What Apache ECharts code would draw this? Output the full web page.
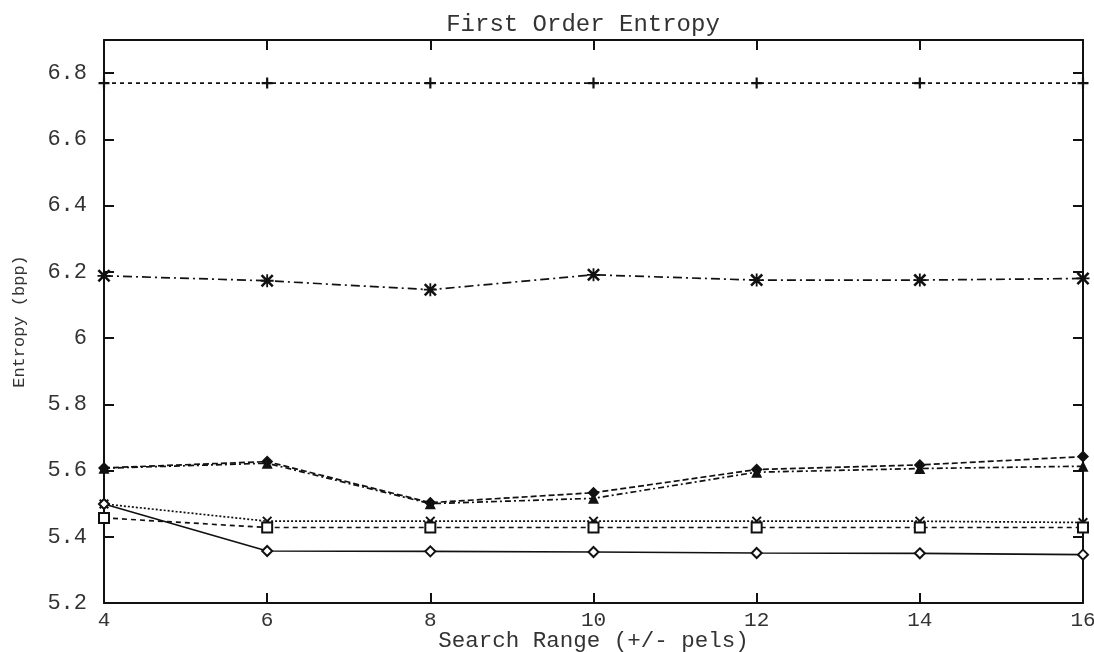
<!DOCTYPE html>
<html>
<head>
<meta charset="utf-8">
<script src="https://cdn.jsdelivr.net/npm/echarts@6/dist/echarts.min.js"></script>
<style>html,body{margin:0;padding:0;background:#fff;}#c{width:1094px;height:652px;}</style>
</head>
<body>
<div id="c"></div>
<script>
const searchRange = [4, 6, 8, 10, 12, 14, 16];
const plusSeries     = [6.77, 6.77, 6.77, 6.77, 6.77, 6.77, 6.77];
const starSeries     = [6.188, 6.173, 6.146, 6.191, 6.175, 6.175, 6.18];
const diamondSeries  = [5.608, 5.627, 5.503, 5.533, 5.603, 5.617, 5.642];
const triangleSeries = [5.607, 5.622, 5.500, 5.516, 5.595, 5.606, 5.613];
const crossSeries    = [5.499, 5.447, 5.447, 5.447, 5.447, 5.447, 5.443];
const squareSeries   = [5.457, 5.428, 5.428, 5.428, 5.428, 5.428, 5.428];
const solidSeries    = [5.499, 5.357, 5.356, 5.354, 5.351, 5.350, 5.346];
const yTicks = [5.2, 5.4, 5.6, 5.8, 6, 6.2, 6.4, 6.6, 6.8];

const FONT = '"Liberation Mono", "DejaVu Sans Mono", monospace';
const TXT = '#333';
const pair = arr => searchRange.map((x, i) => [x, arr[i]]);

const plusPath = 'path://M4,0H6V4H10V6H6V10H4V6H0V4H4Z';
const xPath = 'path://M0,1.4L1.4,0L10,8.6L8.6,10Z M8.6,0L10,1.4L1.4,10L0,8.6Z';
const starPath = 'path://M4.3,0H5.7V10H4.3Z M0,4.3H10V5.7H0Z M0,1.4L1.4,0L10,8.6L8.6,10Z M8.6,0L10,1.4L1.4,10L0,8.6Z';

function mk(name, arr, symbol, size, dash, extra) {
  return Object.assign({
    name: name,
    type: 'line',
    data: pair(arr),
    symbol: symbol,
    symbolSize: size,
    clip: false,
    lineStyle: { color: '#111', width: 1.7, type: dash },
    itemStyle: { color: '#111' },
    animation: false
  }, extra || {});
}

const chart = echarts.init(document.getElementById('c'));
const axisCommon = {
  axisLine: { show: true, lineStyle: { color: '#111', width: 2 } },
  axisTick: { show: true, inside: true, length: 10, lineStyle: { color: '#111', width: 2 } },
  splitLine: { show: false }
};
chart.setOption({
  backgroundColor: '#fff',
  animation: false,
  title: {
    text: 'First Order Entropy',
    left: 578, top: 8, textAlign: 'center',
    textStyle: { fontFamily: FONT, fontSize: 24, fontWeight: 'normal', color: TXT }
  },
  grid: { left: 104, right: 11, top: 40, bottom: 49, containLabel: false, outerBoundsMode: 'none' },
  xAxis: [
    Object.assign({
      type: 'value', min: 4, max: 16, interval: 2, position: 'bottom',
      name: 'Search Range (+/- pels)', nameLocation: 'middle', nameGap: 27, nameMoveOverlap: false,
      nameTextStyle: { fontFamily: FONT, fontSize: 22.5, color: TXT },
      axisLabel: { fontFamily: FONT, fontSize: 21, color: TXT, margin: 7 }
    }, axisCommon),
    Object.assign({
      type: 'value', min: 4, max: 16, interval: 2, position: 'top',
      axisLabel: { show: false }
    }, axisCommon)
  ],
  yAxis: [
    Object.assign({
      type: 'value', min: 5.2, max: 6.9, interval: 0.2, position: 'left',
      name: 'Entropy (bpp)', nameLocation: 'middle', nameGap: 76, nameRotate: 90, nameMoveOverlap: false,
      nameTextStyle: { fontFamily: FONT, fontSize: 17, color: TXT },
      axisLabel: {
        fontFamily: FONT, fontSize: 22, color: TXT, margin: 17, showMaxLabel: false,
        formatter: v => {
          const t = yTicks.find(k => Math.abs(k - v) < 1e-6);
          return t === undefined ? '' : String(t);
        }
      }
    }, axisCommon),
    Object.assign({
      type: 'value', min: 5.2, max: 6.9, interval: 0.2, position: 'right',
      axisLabel: { show: false }
    }, axisCommon)
  ],
  series: [
    mk('plus', plusSeries, plusPath, 11, [4, 4]),
    mk('star', starSeries, starPath, 13, [9, 4, 2, 4]),
    mk('diamond', diamondSeries, 'diamond', 12, [6, 3]),
    mk('triangle', triangleSeries, 'triangle', 11, [6, 3, 2, 3]),
    mk('cross', crossSeries, xPath, 10, [2, 2]),
    mk('square', squareSeries, 'emptyRect', 10, [5, 4], { itemStyle: { color: '#111', borderWidth: 2 } }),
    mk('solid', solidSeries, 'emptyDiamond', 10, 'solid', { itemStyle: { color: '#111', borderWidth: 2.5 } })
  ]
});
</script>
</body>
</html>
